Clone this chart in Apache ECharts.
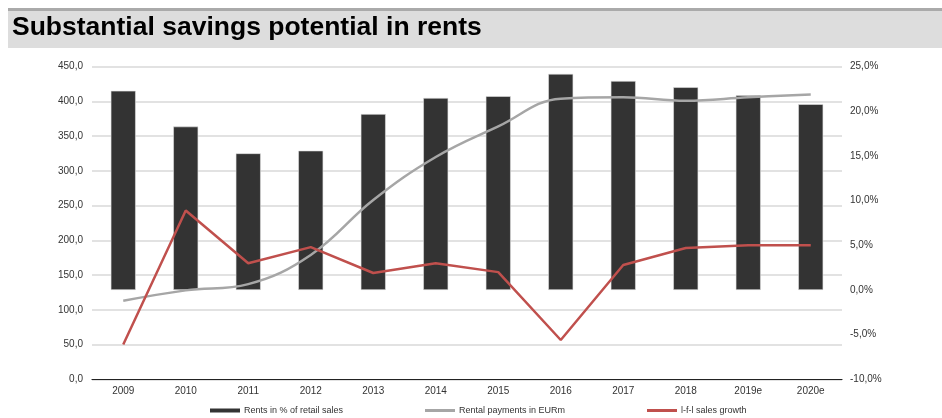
<!DOCTYPE html>
<html>
<head>
<meta charset="utf-8">
<script src="https://cdn.jsdelivr.net/npm/echarts@6/dist/echarts.min.js"></script>
<style>
  html, body { margin: 0; padding: 0; background: #fff; }
  #chart { width: 942px; height: 418px; }
</style>
</head>
<body>
<div id="chart"></div>
<script>
// Years on the category axis
const years = ['2009', '2010', '2011', '2012', '2013', '2014', '2015', '2016', '2017', '2018', '2019e', '2020e'];
// Rents as a share of retail sales, in %
const rentsPctOfSales = [22.3, 18.3, 15.3, 15.6, 19.7, 21.5, 21.7, 24.2, 23.4, 22.7, 21.8, 20.8];
// Rental payments, EUR million
const rentalPayments = [113, 128, 137, 179, 258, 320, 364, 404, 406, 401, 406, 410];
// Like-for-like sales growth, in %
const lflGrowth = [-6.1, 8.9, 3.0, 4.8, 1.9, 3.0, 2.0, -5.6, 2.8, 4.7, 5.0, 5.0];

const seriesNames = ['Rents in % of retail sales', 'Rental payments in EURm', 'l-f-l sales growth'];

const chart = echarts.init(document.getElementById('chart'), null, { renderer: 'canvas' });

const fmt1 = v => v.toFixed(1).replace('.', ',');
const labelFont = { fontFamily: 'Liberation Sans, Arial, sans-serif', fontSize: 10, color: '#333' };

const legendBase = {
  top: 401,
  itemWidth: 30,
  itemGap: 4,
  icon: 'rect',
  itemStyle: { borderWidth: 0 },
  textStyle: { fontFamily: 'Liberation Sans, Arial, sans-serif', fontSize: 9, color: '#333', padding: [0, 0, 0, -1] }
};

chart.setOption({
  animation: false,
  graphic: [
    { type: 'rect', shape: { x: 8, y: 8, width: 934, height: 3 }, style: { fill: '#aaaaaa' } },
    { type: 'rect', shape: { x: 8, y: 11, width: 934, height: 37 }, style: { fill: '#dddddd' } },
    {
      type: 'text', left: 12, top: 14,
      style: {
        text: 'Substantial savings potential in rents',
        font: 'bold 26.5px "Liberation Sans", Arial, sans-serif',
        fill: '#000'
      }
    }
  ],
  grid: { left: 92, right: 100, top: 66.7, bottom: 38.7 },
  legend: [
    Object.assign({}, legendBase, { left: 205, data: [seriesNames[0]], itemHeight: 4 }),
    Object.assign({}, legendBase, { left: 420, data: [seriesNames[1]], itemHeight: 3 }),
    Object.assign({}, legendBase, { left: 642, data: [seriesNames[2]], itemHeight: 3 })
  ],
  xAxis: {
    type: 'category',
    data: years,
    boundaryGap: true,
    axisLine: { lineStyle: { color: '#222', width: 1.2 } },
    axisTick: { show: false },
    axisLabel: Object.assign({ margin: 7 }, labelFont)
  },
  yAxis: [
    {
      type: 'value', min: 0, max: 450, interval: 50,
      axisLine: { show: false }, axisTick: { show: false },
      axisLabel: Object.assign({ margin: 9, formatter: fmt1 }, labelFont),
      splitLine: { lineStyle: { color: '#d9d9d9', width: 1.5 } }
    },
    {
      type: 'value', min: -10, max: 25, interval: 5,
      axisLine: { show: false }, axisTick: { show: false },
      axisLabel: Object.assign({ margin: 8, formatter: v => fmt1(v) + '%' }, labelFont),
      splitLine: { show: false }
    }
  ],
  series: [
    {
      name: seriesNames[0], type: 'bar', yAxisIndex: 1,
      data: rentsPctOfSales,
      barWidth: 25,
      itemStyle: { color: '#333333', borderColor: '#e0e0e0', borderWidth: 0.6 }
    },
    {
      name: seriesNames[1], type: 'line', yAxisIndex: 0,
      data: rentalPayments,
      smooth: 0.4, showSymbol: false, symbol: 'none',
      lineStyle: { color: '#a6a6a6', width: 2.5 },
      itemStyle: { color: '#a6a6a6' }
    },
    {
      name: seriesNames[2], type: 'line', yAxisIndex: 1,
      data: lflGrowth,
      smooth: false, showSymbol: false, symbol: 'none',
      lineStyle: { color: '#c0504d', width: 2.5 },
      itemStyle: { color: '#c0504d' }
    }
  ]
});
</script>
</body>
</html>
